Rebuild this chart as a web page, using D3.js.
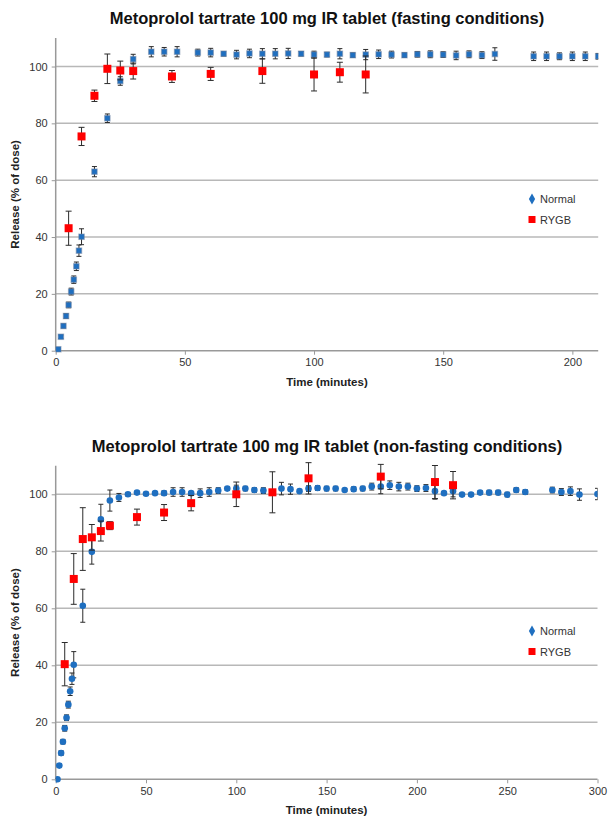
<!DOCTYPE html>
<html><head><meta charset="utf-8">
<script src="https://cdn.jsdelivr.net/npm/d3@7"></script>
<style>
html,body{margin:0;padding:0;background:#fff;}
svg{display:block;font-family:"Liberation Sans",Arial,sans-serif;}
</style></head>
<body>
<svg id="chart" width="609" height="816"></svg>
<script>
// ---------- DATA ----------
// Top chart: fasting conditions
const fastNormalTime = [1,2,3,4,5,6,7,8,9,10,15,20,25,30,37,42,47,55,60,65,70,75,80,85,90,95,100,105,110,115,120,125,130,135,140,145,150,155,160,165,170,185,190,195,200,205,210];
const fastNormalValue = [0.5,4.9,8.7,12.2,16.1,20.8,25.0,29.7,35.2,40.1,63.0,81.8,94.9,102.6,105.2,105.2,105.2,104.9,104.9,104.5,104.2,104.6,104.5,104.5,104.6,104.5,104.2,104.2,104.5,104.0,104.2,104.3,104.2,104.0,104.3,104.3,104.2,103.9,104.3,104.0,104.4,103.6,103.6,103.6,103.6,103.6,103.6];
const fastNormalErr = [0.5,0.6,0.7,0.8,1.0,1.2,1.3,1.5,2.0,2.8,1.8,1.5,1.5,1.7,1.8,1.5,1.8,1.2,1.5,0.8,1.5,1.5,1.8,1.8,1.8,0.8,1.2,0.8,1.8,0.8,1.8,1.5,1.2,0.8,1.0,1.2,1.0,1.5,1.2,1.2,2.2,1.5,1.5,1.2,1.5,1.5,1.0];
const fastRygbTime = [5,10,15,20,25,30,45,60,80,100,110,120];
const fastRygbValue = [43.1,75.4,89.7,99.2,98.6,98.4,96.5,97.4,98.4,97.2,98.0,97.2];
const fastRygbErr = [6.0,3.2,2.0,5.2,3.3,2.8,2.1,2.3,4.3,5.8,3.5,6.5];

// Bottom chart: non-fasting conditions
const fedNormalTime = [1,2,3,4,5,6,7,8,9,10,15,20,25,30,35,40,45,50,55,60,65,70,75,80,85,90,95,100,105,110,115,125,130,135,140,145,150,155,160,165,170,175,180,185,190,195,200,205,210,215,220,225,230,235,240,245,250,255,260,275,280,285,290,300];
const fedNormalValue = [0,4.8,9.2,13.2,17.9,21.6,26.2,30.9,35.3,40.2,60.9,79.8,91.2,97.8,98.9,100.0,100.6,100.2,100.4,100.4,100.8,100.8,100.4,100.4,100.8,101.3,102.0,102.0,102.0,101.5,101.3,102.0,101.8,101.1,102.0,102.2,102.0,102.0,101.5,101.8,102.0,102.7,102.7,103.2,102.7,102.7,102.0,102.2,101.1,100.4,101.1,99.9,99.9,100.6,100.6,100.6,99.9,101.5,100.8,101.5,100.8,101.1,99.9,100.1];
const fedNormalErr = [0.3,0.5,0.8,0.8,1.0,1.0,1.2,1.5,2.0,4.6,5.8,4.3,5.3,3.7,1.4,0.6,0.5,0.5,0.5,0.8,1.5,1.5,0.6,1.5,1.5,1.0,0.6,1.2,0.8,0.8,1.0,2.2,1.8,0.5,1.0,0.8,0.8,0.8,0.5,0.8,0.8,1.2,2.5,1.5,1.5,1.2,1.0,1.2,2.8,0.6,2.0,0.5,0.5,0.6,0.8,0.8,0.8,0.8,0.8,1.0,1.2,1.5,2.0,2.0];
const fedRygbTime = [5,10,15,20,25,30,45,60,75,100,120,140,180,210,220];
const fedRygbValue = [40.4,70.3,84.3,84.9,87.1,89.0,92.0,93.6,96.9,100.0,100.7,105.6,106.2,104.3,103.2];
const fedRygbErr = [7.6,8.9,11.0,4.5,3.5,1.4,2.8,2.8,2.7,4.3,7.2,5.5,4.3,5.8,4.8];

const yTicks = [0,20,40,60,80,100];
const fastXTicks = [0,50,100,150,200];
const fedXTicks = [0,50,100,150,200,250,300];
const seriesNames = ["Normal","RYGB"];
const titles = ["Metoprolol tartrate 100 mg IR tablet (fasting conditions)",
                "Metoprolol tartrate 100 mg IR tablet (non-fasting conditions)"];
const xLabel = "Time (minutes)";
const yLabel = "Release (% of dose)";

// ---------- DRAW ----------
const svg = d3.select("#chart");
const BLUE = "#1f6fc0", RED = "#ff0000";

function zip(t,v,e){ return t.map((d,i)=>({t:d,v:v[i],e:e[i]})); }

function panel(cfg){
  const g = svg.append("g");
  const x = d3.scaleLinear().domain([0,cfg.xmax]).range([cfg.left,cfg.right]);
  const y = d3.scaleLinear().domain([0,110]).range([cfg.bottom,cfg.top]);

  // title
  g.append("text").attr("x",cfg.titleX).attr("y",cfg.titleY)
    .attr("text-anchor","middle").attr("font-weight","bold").attr("font-size",16.5)
    .attr("fill","#111").text(cfg.title);

  // gridlines
  g.append("g").selectAll("line").data(yTicks.filter(d=>d>0)).join("line")
    .attr("x1",cfg.left).attr("x2",cfg.right)
    .attr("y1",d=>y(d)).attr("y2",d=>y(d))
    .attr("stroke","#b8b8b8").attr("stroke-width",1.5);

  // axes
  const xa = g.append("g").attr("transform",`translate(0,${y(0)})`)
    .call(d3.axisBottom(x).tickValues(cfg.xticks).tickSize(4).tickPadding(4));
  const ya = g.append("g").attr("transform",`translate(${x(0)},0)`)
    .call(d3.axisLeft(y).tickValues(yTicks).tickSize(4).tickPadding(4));
  [xa,ya].forEach(a=>{
    a.select(".domain").attr("stroke","#999").attr("stroke-width",1.5);
    a.selectAll(".tick line").attr("stroke","#999");
    a.selectAll(".tick text").attr("font-size",11).attr("fill","#333")
      .attr("font-family","'Liberation Sans',Arial,sans-serif");
  });
  ya.select(".domain").attr("d",`M-0,${y(110)}V${y(0)}`);
  xa.select(".domain").attr("d",`M${cfg.left},0H${cfg.right}`);

  // axis titles
  g.append("text").attr("x",(cfg.left+cfg.right)/2).attr("y",y(0)+35)
    .attr("text-anchor","middle").attr("font-weight","bold").attr("font-size",11.5)
    .attr("fill","#222").text(xLabel);
  g.append("text").attr("transform",`translate(19,${(y(0)+y(110))/2}) rotate(-90)`)
    .attr("text-anchor","middle").attr("font-weight","bold").attr("font-size",11.5)
    .attr("fill","#222").text(yLabel);

  // clip
  const cid = "clip"+cfg.id;
  svg.append("clipPath").attr("id",cid).append("rect")
    .attr("x",cfg.left).attr("y",cfg.top-20).attr("width",cfg.right-cfg.left).attr("height",cfg.bottom-cfg.top+25);
  const plot = g.append("g").attr("clip-path",`url(#${cid})`);

  function errbars(data,cap){
    const eg = plot.append("g").attr("stroke","#2b2b2b").attr("stroke-width",1);
    eg.selectAll("line.v").data(data).join("line").attr("class","v")
      .attr("x1",d=>x(d.t)).attr("x2",d=>x(d.t)).attr("y1",d=>y(d.v-d.e)).attr("y2",d=>y(d.v+d.e));
    eg.selectAll("line.a").data(data).join("line").attr("class","a")
      .attr("x1",d=>x(d.t)-cap).attr("x2",d=>x(d.t)+cap).attr("y1",d=>y(d.v+d.e)).attr("y2",d=>y(d.v+d.e));
    eg.selectAll("line.b").data(data).join("line").attr("class","b")
      .attr("x1",d=>x(d.t)-cap).attr("x2",d=>x(d.t)+cap).attr("y1",d=>y(d.v-d.e)).attr("y2",d=>y(d.v-d.e));
  }
  const normal = cfg.normal, rygb = cfg.rygb;
  errbars(normal,2.5);
  if(cfg.normalShape==="square"){
    plot.append("g").selectAll("rect").data(normal).join("rect")
      .attr("x",d=>x(d.t)-2.7).attr("y",d=>y(d.v)-2.7).attr("width",5.4).attr("height",5.4)
      .attr("fill",BLUE).attr("stroke","rgba(110,130,160,0.5)").attr("stroke-width",1.2);
  } else {
    plot.append("g").selectAll("circle").data(normal).join("circle")
      .attr("cx",d=>x(d.t)).attr("cy",d=>y(d.v)).attr("r",3.3)
      .attr("fill",BLUE);
  }
  errbars(rygb,3);
  plot.append("g").selectAll("rect").data(rygb).join("rect")
    .attr("x",d=>x(d.t)-4).attr("y",d=>y(d.v)-4).attr("width",8).attr("height",8)
    .attr("fill",RED);

  // legend
  const lg = g.append("g").attr("transform",`translate(${cfg.legX},${cfg.legY})`);
  lg.append("path").attr("d",d3.symbol(d3.symbolDiamond,34)()).attr("fill",BLUE);
  lg.append("text").attr("x",8).attr("y",4).attr("font-size",11).attr("fill","#333").text(seriesNames[0]);
  lg.append("rect").attr("x",-3.5).attr("y",17).attr("width",7).attr("height",7).attr("fill",RED);
  lg.append("text").attr("x",8).attr("y",24.5).attr("font-size",11).attr("fill","#333").text(seriesNames[1]);
}

panel({id:1,title:titles[0],titleX:327,titleY:24,left:55.7,right:598.2,top:38.1,bottom:350.7,xmax:210,
  xticks:fastXTicks,normal:zip(fastNormalTime,fastNormalValue,fastNormalErr),
  rygb:zip(fastRygbTime,fastRygbValue,fastRygbErr),normalShape:"square",legX:532,legY:199});
panel({id:2,title:titles[1],titleX:327,titleY:452,left:55.7,right:597.5,top:465.8,bottom:779.3,xmax:300,
  xticks:fedXTicks,normal:zip(fedNormalTime,fedNormalValue,fedNormalErr),
  rygb:zip(fedRygbTime,fedRygbValue,fedRygbErr),normalShape:"circle",legX:532,legY:631});
</script>
</body></html>
